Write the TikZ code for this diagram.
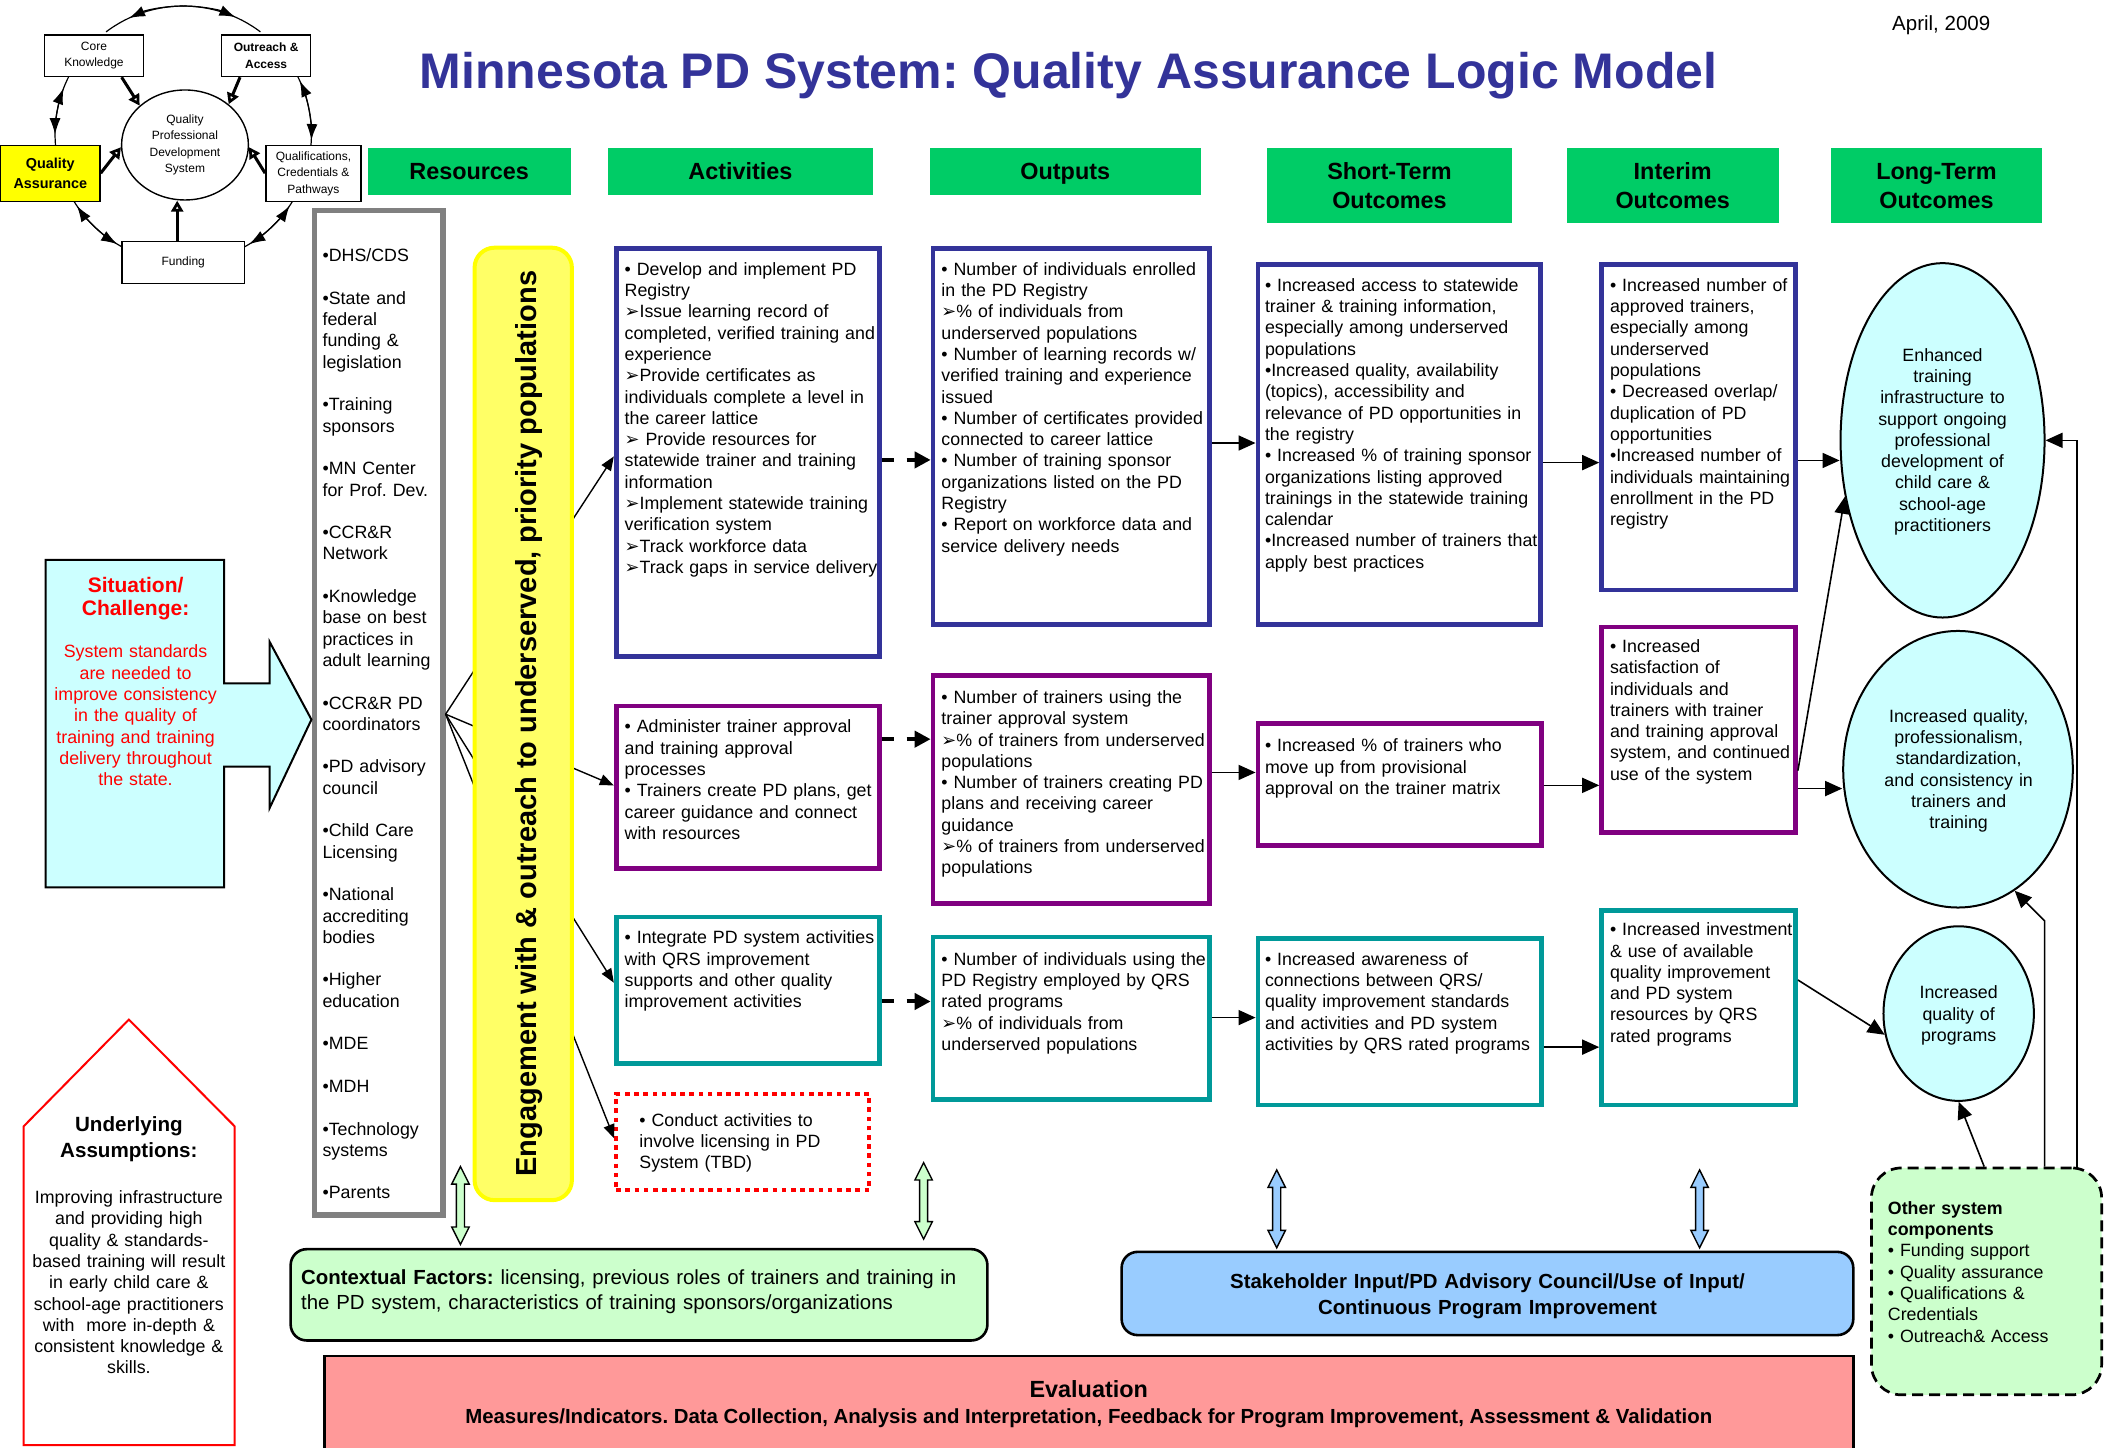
\documentclass[tikz,border=0pt]{standalone}
\usepackage{fontspec}
\setmainfont{Liberation Sans}
\newfontfamily\dvfont{DejaVu Sans}[Scale=1.0]
\usetikzlibrary{arrows.meta,fit,shapes.geometric,calc}
\frenchspacing
\definecolor{tblue}{HTML}{333399}
\definecolor{tpurple}{HTML}{800080}
\definecolor{tteal}{HTML}{009999}
\definecolor{hgreen}{HTML}{00CC66}
\definecolor{lcyan}{HTML}{CCFFFF}
\definecolor{lgreen}{HTML}{CCFFCC}
\definecolor{lblue}{HTML}{99CCFF}
\definecolor{salmon}{HTML}{FF9999}
\definecolor{yfill}{HTML}{FFFF66}
\definecolor{ybord}{HTML}{FFFF00}
\definecolor{rgray}{HTML}{808080}
\newcommand\fs[2]{\fontsize{#1}{#2}\selectfont}
\newcommand\ah{{\dvfont ➢}}
\begin{document}
\begin{tikzpicture}[x=0.67125pt, y=-0.67125pt,
  bx/.style={draw, line width=2.35pt, inner sep=0pt},
  hdr/.style={fill=hgreen, inner sep=0pt},
  htxt/.style={font=\bfseries\fs{11.7}{14.1}, align=center, text width=150pt, inner sep=0pt, anchor=base},
  body/.style={font=\fs{8.9}{10.65}, align=left, text width=#1, inner sep=0pt, anchor=base west},
  body/.default=160pt,
  cbody/.style={font=\fs{8.9}{10.65}, align=center, text width=#1, inner sep=0pt, anchor=base},
  cbody/.default=110pt,
  arr/.style={-{Triangle[length=8.5pt,width=7.5pt]}, line width=0.8pt},
  darr/.style={-{Triangle[length=8pt,width=8pt]}, line width=2pt, dash pattern=on 6pt off 6.5pt},
  fan/.style={-{Triangle[length=7pt,width=5.5pt]}, line width=0.7pt},
  lte/.style={ellipse, draw, fill=lcyan, line width=1pt, inner sep=0pt},
  sbox/.style={draw, line width=0.7pt, inner sep=0pt, fill=white},
  stxt/.style={font=\fs{6}{8.2}, align=center, inner sep=0pt},
  ringln/.style={line width=0.6pt},
  ringtp/.style={line width=0.6pt, -{Latex[length=8pt,width=5.5pt]}},
  inarr/.style={line width=1.5pt, -{Triangle[open,length=5.5pt,width=6pt]}},
  rbox/.style={draw, rounded corners=8pt, line width=1.3pt, inner sep=0pt},
  dbl/.style={draw, line width=0.7pt}
]
\useasboundingbox (0,0) rectangle (1568,1078);
\clip (0,0) rectangle (1568,1078);

% ---------- title ----------
\node[anchor=base, inner sep=0pt, text=tblue, font=\bfseries\fs{25}{30}] (title) at (796,66) {Minnesota PD System: Quality Assurance Logic Model};
\node[anchor=base, inner sep=0pt, font=\fs{10.25}{12}] (date) at (1446,22.5) {April, 2009};

% ---------- small system diagram ----------
\coordinate (rc) at (136.5,100);
\draw[ringln] (rc) ++(-127:95.5) arc[start angle=-127, end angle=-53, radius=95.5];
\draw[ringtp] (rc) ++(-90:95.5) arc[start angle=-90, end angle=-115, radius=95.5];
\draw[ringtp] (rc) ++(-90:95.5) arc[start angle=-90, end angle=-66, radius=95.5];
\draw[ringln] (rc) ++(207:95.5) arc[start angle=207, end angle=175, radius=95.5];
\draw[ringtp] (rc) ++(191:95.5) arc[start angle=191, end angle=201, radius=95.5];
\draw[ringtp] (rc) ++(191:95.5) arc[start angle=191, end angle=180, radius=95.5];
\draw[ringln] (rc) ++(149:95.5) arc[start angle=149, end angle=117.7, radius=95.5];
\draw[ringtp] (rc) ++(133:95.5) arc[start angle=133, end angle=146, radius=95.5];
\draw[ringtp] (rc) ++(133:95.5) arc[start angle=133, end angle=121, radius=95.5];
\draw[ringln] (rc) ++(62.5:95.5) arc[start angle=62.5, end angle=31.2, radius=95.5];
\draw[ringtp] (rc) ++(47:95.5) arc[start angle=47, end angle=59, radius=95.5];
\draw[ringtp] (rc) ++(47:95.5) arc[start angle=47, end angle=34, radius=95.5];
\draw[ringln] (rc) ++(5.1:95.5) arc[start angle=5.1, end angle=-27, radius=95.5];
\draw[ringtp] (rc) ++(-11:95.5) arc[start angle=-11, end angle=-24.6, radius=95.5];
\draw[ringtp] (rc) ++(-11:95.5) arc[start angle=-11, end angle=2.6, radius=95.5];

\node[sbox, fit={(33,26) (107,57)}] (core) {};
\node[stxt] (coret) at (core.center) {Core\\Knowledge};
\node[sbox, fit={(165,26) (231.5,57)}] (outr) {};
\node[stxt, font=\bfseries\fs{6}{8.2}] (outrt) at (outr.center) {Outreach \&\\Access};
\node[sbox, fill=ybord, fit={(0.5,108.5) (74.5,150)}] (qa) {};
\node[stxt, font=\bfseries\fs{7.2}{10}] (qat) at (qa.center) {Quality\\Assurance};
\node[sbox, fit={(198,108.5) (269,150)}] (qual) {};
\node[stxt] (qualt) at (qual.center) {Qualifications,\\Credentials \&\\Pathways};
\node[sbox, fit={(91,180) (182,211)}] (fund) {};
\node[stxt] (fundt) at (fund.center) {Funding};
\node[ellipse, draw, line width=0.7pt, fill=white, minimum width=63.4pt, minimum height=55pt, inner sep=0pt] (qpds) at (137.8,108) {};
\node[stxt] (qpdst) at (qpds.center) {Quality\\Professional\\Development\\System};

\draw[inarr] (core.south -| 90.6,0) -- (qpds.139);
\draw[inarr] (outr.south -| 178.8,0) -- (qpds.43);
\draw[inarr] (qa.east |- 0,129) -- (qpds.182);
\draw[inarr] (qual.west |- 0,129) -- (qpds.358);
\draw[inarr] (fund.north -| 132,0) -- (qpds.south -| 132,0);

% ---------- column headers ----------
\node[hdr, fit={(274,110) (425,145)}] (h1) {};
\node[htxt] (h1t) at (349.5,134) {Resources};
\node[hdr, fit={(453,110) (650,145)}] (h2) {};
\node[htxt] (h2t) at (551.5,134) {Activities};
\node[hdr, fit={(692.5,110) (894.5,145)}] (h3) {};
\node[htxt] (h3t) at (793.5,134) {Outputs};
\node[hdr, fit={(944,110) (1126,166)}] (h4) {};
\node[htxt] (h4t) at (1035,134) {Short-Term\\Outcomes};
\node[hdr, fit={(1167.5,110) (1325,166)}] (h5) {};
\node[htxt] (h5t) at (1246,134) {Interim\\Outcomes};
\node[hdr, fit={(1364,110) (1521,166)}] (h6) {};
\node[htxt] (h6t) at (1442.5,134) {Long-Term\\Outcomes};

% ---------- resources ----------
\node[bx, draw=rgray, line width=2.6pt, fit={(234,157) (330,905)}] (res) {};
\node[body=95pt] (rest) at (240,195) {•DHS/CDS\\[10.65pt]
•State and\\federal\\funding \&\\legislation\\[10.65pt]
•Training\\sponsors\\[10.65pt]
•MN Center\\for Prof. Dev.\\[10.65pt]
•CCR\&R\\Network\\[10.65pt]
•Knowledge\\base on best\\practices in\\adult learning\\[10.65pt]
•CCR\&R PD\\coordinators\\[10.65pt]
•PD advisory\\council\\[10.65pt]
•Child Care\\Licensing\\[10.65pt]
•National\\accrediting\\bodies\\[10.65pt]
•Higher\\education\\[10.65pt]
•MDE\\[10.65pt]
•MDH\\[10.65pt]
•Technology\\systems\\[10.65pt]
•Parents};

% ---------- activities ----------
\node[bx, draw=tblue, fit={(459,185) (655,489)}] (act1) {};
\node[body] (act1t) at (465,205) {• Develop and implement PD\\
Registry\\
\ah Issue learning record of\\
completed, verified training and\\
experience\\
\ah Provide certificates as\\
individuals complete a level in\\
the career lattice\\
\ah\ Provide resources for\\
statewide trainer and training\\
information\\
\ah Implement statewide training\\
verification system\\
\ah Track workforce data\\
\ah Track gaps in service delivery};
\node[bx, draw=tpurple, fit={(459,526) (655,647)}] (act2) {};
\node[body] (act2t) at (465,546) {• Administer trainer approval\\
and training approval\\
processes\\
• Trainers create PD plans, get\\
career guidance and connect\\
with resources};
\node[bx, draw=tteal, fit={(459,683) (655,792)}] (act3) {};
\node[body] (act3t) at (465,703) {• Integrate PD system activities\\
with QRS improvement\\
supports and other quality\\
improvement activities};
\node[draw=red, line width=2pt, dash pattern=on 2.3pt off 2.3pt, inner sep=0pt, fit={(459,815) (647.5,886.5)}] (act4) {};
\node[body] (act4t) at (476,839) {• Conduct activities to\\
involve licensing in PD\\
System (TBD)};

% ---------- outputs ----------
\node[bx, draw=tblue, fit={(695,185) (901,465)}] (out1) {};
\node[body] (out1t) at (701,205) {• Number of individuals enrolled\\
in the PD Registry\\
\ah\% of individuals from\\
underserved populations\\
• Number of learning records w/\\
verified training and experience\\
issued\\
• Number of certificates provided\\
connected to career lattice\\
• Number of training sponsor\\
organizations listed on the PD\\
Registry\\
• Report on workforce data and\\
service delivery needs};
\node[bx, draw=tpurple, fit={(695,503) (901,673)}] (out2) {};
\node[body] (out2t) at (701,524) {• Number of trainers using the\\
trainer approval system\\
\ah\% of trainers from underserved\\
populations\\
• Number of trainers creating PD\\
plans and receiving career\\
guidance\\
\ah\% of trainers from underserved\\
populations};
\node[bx, draw=tteal, fit={(695,698) (901,819)}] (out3) {};
\node[body] (out3t) at (701,719) {• Number of individuals using the\\
PD Registry employed by QRS\\
rated programs\\
\ah\% of individuals from\\
underserved populations};

% ---------- short-term ----------
\node[bx, draw=tblue, fit={(937,197) (1147.5,465)}] (st1) {};
\node[body] (st1t) at (942,217) {• Increased access to statewide\\
trainer \& training information,\\
especially among underserved\\
populations\\
•Increased quality, availability\\
(topics), accessibility and\\
relevance of PD opportunities in\\
the registry\\
• Increased \% of training sponsor\\
organizations listing approved\\
trainings in the statewide training\\
calendar\\
•Increased number of trainers that\\
apply best practices};
\node[bx, draw=tpurple, fit={(937,539) (1148,630)}] (st2) {};
\node[body] (st2t) at (942,560) {• Increased \% of trainers who\\
move up from provisional\\
approval on the trainer matrix};
\node[bx, draw=tteal, fit={(937,699) (1148,823)}] (st3) {};
\node[body] (st3t) at (942,719) {• Increased awareness of\\
connections between QRS/\\
quality improvement standards\\
and activities and PD system\\
activities by QRS rated programs};

% ---------- interim ----------
\node[bx, draw=tblue, fit={(1193,197) (1337.5,439.5)}] (in1) {};
\node[body] (in1t) at (1199,217) {• Increased number of\\
approved trainers,\\
especially among\\
underserved\\
populations\\
• Decreased overlap/\\
duplication of PD\\
opportunities\\
•Increased number of\\
individuals maintaining\\
enrollment in the PD\\
registry};
\node[bx, draw=tpurple, fit={(1193,467) (1337.5,620)}] (in2) {};
\node[body] (in2t) at (1199,486) {• Increased\\
satisfaction of\\
individuals and\\
trainers with trainer\\
and training approval\\
system, and continued\\
use of the system};
\node[bx, draw=tteal, fit={(1193,678) (1337.5,823)}] (in3) {};
\node[body] (in3t) at (1199,697) {• Increased investment\\
\& use of available\\
quality improvement\\
and PD system\\
resources by QRS\\
rated programs};

% ---------- long-term ----------
\node[lte, minimum width=102pt, minimum height=177.2pt] (lt1) at (1447,328) {};
\node[cbody] (lt1t) at (1447,269) {Enhanced\\training\\infrastructure to\\support ongoing\\professional\\development of\\child care \&\\school-age\\practitioners};
\node[lte, minimum width=114.8pt, minimum height=138.3pt] (lt2) at (1458.5,573) {};
\node[cbody] (lt2t) at (1459,538) {Increased quality,\\professionalism,\\standardization,\\and consistency in\\trainers and\\training};
\node[lte, minimum width=75.2pt, minimum height=87.3pt] (lt3) at (1459,755) {};
\node[cbody] (lt3t) at (1459,744) {Increased\\quality of\\programs};

% ---------- fan from resources (behind yellow bar) ----------
\draw[fan] (res.east |- 0,532) -- (act1.west |- 0,340);
\draw[fan] (res.east |- 0,532) -- (act2.west |- 0,585);
\draw[fan] (res.east |- 0,532) -- (act3.west |- 0,732);
\draw[fan] (res.east |- 0,532) -- (act4.west |- 0,848);

% ---------- yellow engagement bar ----------
\node[draw=ybord, fill=yfill, line width=2pt, rounded corners=10pt, inner sep=0pt, fit={(353.5,184.5) (426,894)}] (eng) {};
\node[rotate=90, anchor=base, inner sep=0pt, font=\bfseries\fs{14.5}{17}] (engt) at (400,539) {Engagement with \& outreach to underserved, priority populations};

% ---------- connectors between columns ----------
\draw[darr] (act1.east |- 0,342.6) -- (out1.west |- 0,342.6);
\draw[darr] (act2.east |- 0,550.6) -- (out2.west |- 0,550.6);
\draw[darr] (act3.east |- 0,746) -- (out3.west |- 0,746);
\draw[arr] (out1.east |- 0,330) -- (st1.west |- 0,330);
\draw[arr] (st1.east |- 0,344.6) -- (in1.west |- 0,344.6);
\draw[arr] (in1.east |- 0,343) -- (lt1.west |- 0,343);
\draw[arr] (out2.east |- 0,575.4) -- (st2.west |- 0,575.4);
\draw[arr] (st2.east |- 0,585) -- (in2.west |- 0,585);
\draw[arr] (in2.east |- 0,587.4) -- (lt2.west |- 0,587.4);
\draw[arr] (out3.east |- 0,758) -- (st3.west |- 0,758);
\draw[arr] (st3.east |- 0,780) -- (in3.west |- 0,780);
\draw[arr] (in3.east |- 0,730) -- (lt3.196);
\draw[arr] (in2.east |- 0,574) -- (lt1.210);

% ---------- situation / challenge ----------
\draw[fill=lcyan, line width=1pt] (34,417) -- (167,417) -- (167,509) -- (200.8,509) -- (200.8,478) -- (232,536) -- (200.8,602) -- (200.8,571) -- (167,571) -- (167,661) -- (34,661) -- cycle;
\node[anchor=base, align=center, text width=110pt, inner sep=0pt, text=red, font=\bfseries\fs{10.5}{11.75}] (sith) at (101,441) {Situation/\\Challenge:};
\node[cbody, text=red] (sitb) at (101,490) {System standards\\are needed to\\improve consistency\\in the quality of\\training and training\\delivery throughout\\the state.};

% ---------- underlying assumptions ----------
\draw[draw=red, line width=1pt, fill=white] (17.6,1076.5) -- (17.6,839) -- (96,759.5) -- (174.8,839) -- (174.8,1076.5) -- cycle;
\node[anchor=base, align=center, text width=110pt, inner sep=0pt, font=\bfseries\fs{10.3}{12.75}] (undh) at (96,843) {Underlying\\Assumptions:};
\node[cbody] (undb) at (96,896.5) {Improving infrastructure\\and providing high\\quality \& standards-\\based training will result\\in early child care \&\\school-age practitioners\\with\ \ more in-depth \&\\consistent knowledge \&\\skills.};

% ---------- bottom boxes ----------
\node[rbox, fill=lgreen, fit={(216.5,930.5) (735.5,998.5)}] (ctx) {};
\node[anchor=base west, align=left, text width=350pt, inner sep=0pt, font=\fs{10.2}{12.75}] (ctxt) at (224,956.5) {\textbf{Contextual Factors:} licensing, previous roles of trainers and training in\\the PD system, characteristics of training sponsors/organizations};
\node[rbox, fill=lblue, fit={(835.5,932.5) (1380.5,994.5)}] (stk) {};
\node[anchor=base, align=center, text width=360pt, inner sep=0pt, font=\bfseries\fs{10.2}{12.75}] (stkt) at (1108,960) {Stakeholder Input/PD Advisory Council/Use of Input/\\Continuous Program Improvement};
\node[draw, line width=1.3pt, fill=salmon, inner sep=0pt, fit={(241.5,1010) (1380.5,1095)}] (eval) {};
\node[anchor=base, inner sep=0pt, font=\bfseries\fs{11.7}{14}] (evalh) at (811,1041) {Evaluation};
\node[anchor=base, inner sep=0pt, font=\bfseries\fs{10.2}{12.75}] (evalb) at (811,1060.5) {Measures/Indicators. Data Collection, Analysis and Interpretation, Feedback for Program Improvement, Assessment \& Validation};

% ---------- block double arrows ----------
\draw[dbl, fill=lgreen] (343,869) -- ++(6.5,13) -- ++(-3.5,0) -- ++(0,32) -- ++(3.5,0) -- ++(-6.5,13) -- ++(-6.5,-13) -- ++(3.5,0) -- ++(0,-32) -- ++(-3.5,0) -- cycle;
\draw[dbl, fill=lgreen] (688,866) -- ++(6.5,13) -- ++(-3.5,0) -- ++(0,31) -- ++(3.5,0) -- ++(-6.5,13) -- ++(-6.5,-13) -- ++(3.5,0) -- ++(0,-31) -- ++(-3.5,0) -- cycle;
\draw[dbl, fill=lblue] (951,871.5) -- ++(6.5,13) -- ++(-3.5,0) -- ++(0,32) -- ++(3.5,0) -- ++(-6.5,13) -- ++(-6.5,-13) -- ++(3.5,0) -- ++(0,-32) -- ++(-3.5,0) -- cycle;
\draw[dbl, fill=lblue] (1266,871.5) -- ++(6.5,13) -- ++(-3.5,0) -- ++(0,32) -- ++(3.5,0) -- ++(-6.5,13) -- ++(-6.5,-13) -- ++(3.5,0) -- ++(0,-32) -- ++(-3.5,0) -- cycle;

% ---------- other system components ----------
\node[draw, fill=lgreen, line width=1.35pt, dash pattern=on 5.5pt off 3pt, rounded corners=15pt, inner sep=0pt, fit={(1394,870) (1565.5,1039)}] (oth) {};
\node[body=110pt] (otht) at (1406,904.5) {\textbf{Other system}\\
\textbf{components}\\
• Funding support\\
• Quality assurance\\
• Qualifications \&\\
Credentials\\
• Outreach\& Access};
\coordinate (bend2) at (1523,686);
\draw[arr] (oth.north -| 1478,0) -- (lt3.south);
\draw[arr] (oth.north -| 1523,0) -- (bend2) -- (lt2.295);
\draw[arr] (oth.north -| 1547,0) |- (lt1.east);
\end{tikzpicture}
\end{document}
